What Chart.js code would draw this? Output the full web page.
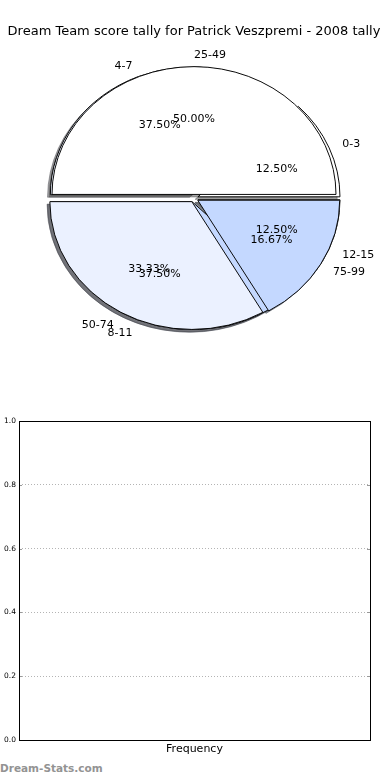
<!DOCTYPE html>
<html>
<head>
<meta charset="utf-8">
<script src="https://cdn.jsdelivr.net/npm/chart.js@4/dist/chart.umd.min.js"></script>
<style>
  html, body { margin: 0; padding: 0; background: #fff; }
  body { width: 390px; height: 780px; position: relative; overflow: hidden; font-family: 'DejaVu Sans', sans-serif; }
  #pieBox { position: absolute; left: 0; top: 0; width: 390px; height: 400px; }
  #barBox { position: absolute; left: 0; top: 400px; width: 390px; height: 360px; }
  #mark { position: absolute; left: 0; top: 762px; line-height: 16px; font: bold 10.5px 'DejaVu Sans', sans-serif; color: #939393; }
</style>
</head>
<body>
<div id="pieBox"><canvas id="pieChart"></canvas></div>
<div id="barBox"><canvas id="barChart"></canvas></div>
<div id="mark">Dream-Stats.com</div>
<script>
const chartTitle = 'Dream Team score tally for Patrick Veszpremi - 2008 tally';

// first pie: points tally bands
const tallyLabels = ['0-3', '4-7', '8-11', '12-15'];
const tallyCounts = [1, 3, 3, 1];

// second pie: score bands
const scoreLabels = ['25-49', '50-74', '75-99'];
const scoreCounts = [3, 2, 1];

// empty frequency chart underneath
const barCategories = [];
const barValues = [];
const yTicks = [0, 0.2, 0.4, 0.6, 0.8, 1.0];
const xTitle = 'Frequency';

const wedgeColors = ['#ffffff', '#ebf1ff', '#c4d8ff', '#ffffff'];
const PIE_R = 142;        // horizontal radius in px
const SQUASH = 0.9;       // pie is an ellipse, vertical / horizontal
const EXPLODE = 4.3;
const SHADOW_DX = -2.8, SHADOW_DY = 2.8;
const TEXT_NUDGE = 1.5;

Chart.defaults.font.family = "'DejaVu Sans', sans-serif";
Chart.defaults.color = '#000';

// matplotlib goes counter-clockwise from 3 o'clock, Chart.js goes clockwise,
// so the wedges are handed over in reverse
function pieDataset(labels, counts, order) {
    const total = counts.reduce((a, b) => a + b, 0);
    return {
        data: counts.slice().reverse(),
        backgroundColor: wedgeColors.slice(0, counts.length).reverse(),
        borderColor: '#000',
        borderWidth: 1,
        order: order,
        names: labels.slice().reverse(),
        pcts: counts.map(c => (c / total * 100).toFixed(2) + '%').reverse()
    };
}

function shadowOf(hex) {
    const n = parseInt(hex.slice(1), 16);
    const r = Math.round(((n >> 16) & 255) * 0.3);
    const g = Math.round(((n >> 8) & 255) * 0.3);
    const b = Math.round((n & 255) * 0.3);
    return `rgba(${r},${g},${b},0.5)`;
}

const pieLook = {
    id: 'pieLook',
    afterDatasetsUpdate(chart) {
        // both pies share one full-size disc, every wedge pushed out a little
        chart.getSortedVisibleDatasetMetas().forEach(meta => {
            meta.data.forEach(arc => {
                const mid = (arc.startAngle + arc.endAngle) / 2;
                arc.innerRadius = 0;
                arc.outerRadius = PIE_R;
                arc.x += EXPLODE * Math.cos(mid);
                arc.y += EXPLODE * Math.sin(mid);
            });
        });
    },
    beforeDatasetsDraw(chart) {
        const ctx = chart.ctx;
        const cy = (chart.chartArea.top + chart.chartArea.bottom) / 2;
        ctx.save();
        ctx.translate(0, cy);
        ctx.scale(1, SQUASH);
        ctx.translate(0, -cy);
        // shadows go under all wedges
        chart.getSortedVisibleDatasetMetas().slice().reverse().forEach(meta => {
            meta.data.forEach(arc => {
                const c = shadowOf(arc.options.backgroundColor);
                const sx = arc.x + SHADOW_DX, sy = arc.y + SHADOW_DY;
                ctx.beginPath();
                ctx.moveTo(sx, sy);
                ctx.arc(sx, sy, arc.outerRadius, arc.startAngle, arc.endAngle);
                ctx.closePath();
                ctx.fillStyle = c;
                ctx.fill();
                ctx.strokeStyle = c;
                ctx.lineWidth = 1;
                ctx.stroke();
            });
        });
    },
    afterDatasetsDraw(chart) {
        const ctx = chart.ctx;
        ctx.restore();
        const cy = (chart.chartArea.top + chart.chartArea.bottom) / 2;
        ctx.save();
        ctx.font = "11px 'DejaVu Sans', sans-serif";
        ctx.fillStyle = '#000';
        ctx.textBaseline = 'middle';
        chart.getSortedVisibleDatasetMetas().slice().reverse().forEach(meta => {
            const ds = chart.data.datasets[meta.index];
            meta.data.forEach((arc, i) => {
                const mid = (arc.startAngle + arc.endAngle) / 2;
                const cos = Math.cos(mid), sin = Math.sin(mid);
                const lx = arc.x + 1.1 * PIE_R * cos;
                const ly = arc.y + 1.1 * PIE_R * sin;
                ctx.textAlign = cos > -1e-9 ? 'left' : 'right';
                ctx.fillText(ds.names[i], lx, cy + (ly - cy) * SQUASH + TEXT_NUDGE);
                const px = arc.x + 0.6 * PIE_R * cos;
                const py = arc.y + 0.6 * PIE_R * sin;
                ctx.textAlign = 'center';
                ctx.fillText(ds.pcts[i], px, cy + (py - cy) * SQUASH + TEXT_NUDGE);
            });
        });
        ctx.restore();
    }
};

new Chart(document.getElementById('pieChart'), {
    type: 'pie',
    data: {
        datasets: [
            pieDataset(tallyLabels, tallyCounts, 2),
            pieDataset(scoreLabels, scoreCounts, 1)
        ]
    },
    options: {
        responsive: true,
        maintainAspectRatio: false,
        animation: false,
        events: [],
        rotation: 90,
        layout: { padding: { left: 0, right: 2, top: 0, bottom: 43 } },
        plugins: {
            legend: { display: false },
            tooltip: { enabled: false },
            title: {
                display: true,
                text: chartTitle,
                color: '#000',
                font: { size: 13, weight: 'normal' },
                padding: { top: 24, bottom: 0 }
            }
        }
    },
    plugins: [pieLook]
});

const frame = {
    id: 'frame',
    afterDraw(chart) {
        const { ctx, chartArea: a } = chart;
        const y = chart.scales.y;
        ctx.save();
        ctx.lineWidth = 1;
        ctx.strokeStyle = '#999';
        yTicks.forEach(v => {
            const py = Math.round(y.getPixelForValue(v)) + 0.5;
            ctx.beginPath();
            ctx.moveTo(a.left, py);
            ctx.lineTo(a.left + 3, py);
            ctx.moveTo(a.right - 3, py);
            ctx.lineTo(a.right, py);
            ctx.stroke();
        });
        ctx.strokeStyle = '#000';
        ctx.strokeRect(Math.round(a.left) + 0.5, Math.round(a.top) + 0.5,
            Math.round(a.right - a.left), Math.round(a.bottom - a.top));
        ctx.restore();
    }
};

new Chart(document.getElementById('barChart'), {
    type: 'bar',
    data: {
        labels: barCategories,
        datasets: [{ data: barValues, backgroundColor: '#c4d8ff' }]
    },
    options: {
        responsive: true,
        maintainAspectRatio: false,
        animation: false,
        events: [],
        layout: { padding: { top: 21, right: 20, left: 0, bottom: 0 } },
        plugins: { legend: { display: false }, tooltip: { enabled: false } },
        scales: {
            x: {
                grid: { display: false },
                border: { display: false },
                ticks: { display: false },
                title: {
                    display: true,
                    text: xTitle,
                    color: '#000',
                    font: { size: 11 },
                    padding: { top: 0, bottom: 4 }
                },
                afterFit(s) { s.height = 20; }
            },
            y: {
                min: 0,
                max: 1,
                afterBuildTicks(s) { s.ticks = yTicks.map(v => ({ value: v })); },
                ticks: {
                    color: '#000',
                    font: { size: 7.5 },
                    padding: 3,
                    callback: v => v.toFixed(1)
                },
                grid: { color: '#b4b4b4', lineWidth: 1, drawTicks: false },
                border: { display: false, dash: [1, 2] },
                afterFit(s) { s.width = 19; }
            }
        }
    },
    plugins: [frame]
});
</script>
</body>
</html>
